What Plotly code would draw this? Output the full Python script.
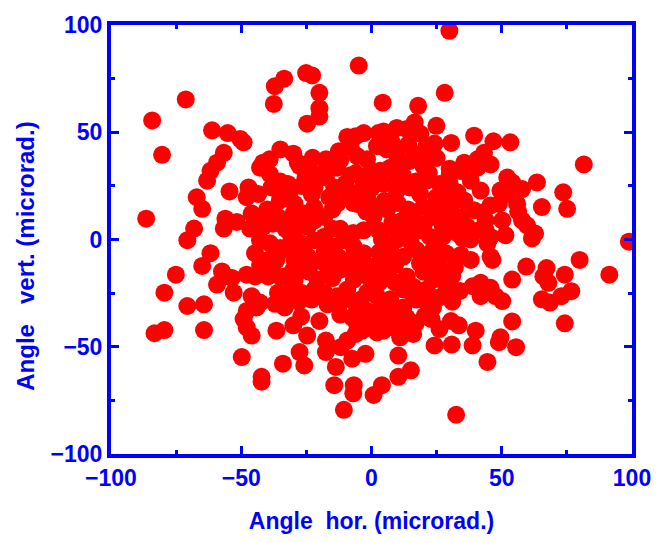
import plotly.graph_objects as go

# Beam pointing jitter: horizontal / vertical angle samples (microrad.)
angle_hor = [
    -71.3, -84.2, -80.4, -61.2, -55.2, -50.4, -49.1, -56.7, -59.3, -37.1,
    -33.5, -37.5, -35.0, -41.6, -39.1, 29.9, -4.9, -25.1, -22.8, -20.0,
    -20.0, -20.0, -24.7, 4.3, 28.1, 17.9, 24.9, 16.6, 13.5, 18.8,
    30.6, 24.2, -9.3, -6.1, -3.0, 2.7, 7.8, 14.1, 18.6, -12.5,
    -5.5, -1.7, 2.1, 5.9, -22.6, -17.5, -28.3, 39.4, 46.8, 53.3,
    43.2, 35.6, 40.7, 45.7, 81.5, -63.1, -61.8, -54.5, -67.1, -65.0,
    -86.5, -47.2, -42.8, -39.0, -38.4, -35.2, -47.9, -43.5, -56.1, -56.7,
    -51.7, -46.6, -41.6, -37.8, -68.1, -70.7, -42.8, -39.0, -44.7, -42.8,
    -39.0, -39.7, -61.8, -65.0, -75.1, -79.5, -57.4, -53.6, -59.3, -52.9,
    -47.9, -46.0, -42.8, -70.7, -64.3, -36.5, -35.2, -35.9, 63.5, 73.6,
    75.1, 65.4, 54.0, 57.8, 52.1, 55.9, 49.5, 45.7, 43.2, 51.4,
    61.6, 62.8, 59.7, 57.8, 44.5, 45.7, 46.4, 38.1, 34.3, 98.8,
    79.9, 91.3, 74.2, 67.2, 66.0, 67.9, 59.4, 54.0, 76.7, 72.9,
    65.4, 68.5, 41.9, 38.8, 45.7, 41.9, 50.2, 34.3, 40.7, 38.1,
    41.9, 35.6, 39.4, 34.3, 36.8, 33.1, 43.8, 45.7, -83.3, -79.5,
    -64.3, -47.9, -49.1, -47.9, -46.0, -44.1, -36.5, -49.8, -42.2, -42.2,
    -34.0, -33.3, -24.7, -27.6, -25.8, -17.5, -17.5, -13.7, -14.3, -10.6,
    -6.8, -7.0, 0.8, 4.0, -7.4, -2.3, -11.8, -9.3, -6.1, -5.5,
    -3.6, -7.4, -16.9, -13.1, -5.5, -1.7, 3.3, 4.6, 2.1, 8.4,
    12.2, 13.5, 8.4, 12.2, 16.0, 11.0, 10.3, 10.3, 15.1, 20.4,
    23.6, 26.1, 24.2, 30.5, 33.5, 30.8, 32.5, 40.0, 38.8, 44.5,
    48.9, 49.5, 54.0, 55.5, 74.2, -27.6, -13.1, -32.1, -31.4, -34.6,
    -29.5, -22.6, -21.9, -17.5, -14.3, -16.2, -46.0, -39.7, -35.9, -41.6,
    -25.8, -21.9, -24.5, -18.1, -13.0, -12.0, -5.5, -1.7, 2.1, 0.8,
    2.7, -3.0, -44.7, -39.7, -30.8, -32.1, -27.0, -21.9, -24.5, -29.5,
    -33.3, -29.5, -32.1, -27.0, -33.3, -18.1, -18.1, -14.3, -10.6, -6.8,
    -9.3, -3.0, -11.8, -16.9, -20.7, -21.9, -18.1, -13.1, -9.3, -6.8,
    -3.0, 0.8, -0.4, -1.7, 2.1, 4.6, 9.7, 14.7, 9.7, 52.1,
    21.1, 26.1, 28.7, 24.9, 18.6, 14.7, 9.7, 7.2, 3.4, 4.6,
    9.7, 48.9, 43.8, 50.2, 41.3, 29.9, 33.7, 27.4, 35.0, 23.6,
    19.8, 16.0, 13.5, 18.6, 22.4, 27.4, 28.7, 23.6, 17.3, 18.6,
    12.2, 7.2, 4.6, 5.9, 13.5, 12.2, 7.2, 17.3, 21.1, 23.6,
    27.4, 28.7, 21.1, 23.0, 47.6, 21.1, -25.3, -22.9, 56.3, -8.0,
    -3.0, -9.0, -6.0, 6.0, 8.0, 10.0, 0.0, -30.0, 30.0, -26.0,
    # dense core
    -30.0, -8.0, 10.0, 0.0, -12.0, 25.0, 30.0, 20.0, -18.0, -24.0,
    -27.0, -10.0, -5.0, 0.0, 12.0, 17.0, 22.0, 30.0, 33.0, -35.0,
    -30.0, -22.0, -15.0, -7.0, -2.0, 5.0, 10.0, 14.0, 25.0, 31.0, -40.0,
    -33.0, -28.0, -15.0, -7.0, 4.0, 8.0, 12.0, 20.0, 25.0, 31.0, 38.0,
    -35.0, -26.0, -20.0, -13.0, -5.0, 3.0, 9.0, 15.0, 21.0, 26.0, 32.0,
    -30.0, -24.0, -15.0, -8.0, 3.0, 9.0, 16.0, 20.0, 31.0, 34.0,
    -37.0, -28.0, -23.0, -10.0, -4.0, 4.0, 16.0, 26.0, 31.0,
    -27.0, -20.0, -12.0, -2.0, 7.0, 17.0, -30.0,
]
angle_vert = [
    65.3, 55.5, 39.5, 50.9, 49.6, 46.9, 45.3, 40.4, 35.8, 71.5,
    75.0, 63.2, 42.0, 35.8, 37.4, 97.3, 81.1, 77.6, 76.5, 68.4,
    61.2, 57.3, 54.0, 63.8, 68.4, 62.3, 53.0, 54.6, 51.5, 49.3,
    45.0, 44.7, 47.8, 48.1, 49.6, 49.6, 45.3, 44.3, 39.7, 41.2,
    38.9, 37.4, 43.5, 42.0, 38.1, 37.4, 35.8, 48.4, 45.8, 45.3,
    40.4, 35.8, 37.4, 35.0, 35.0, 27.4, 32.0, 22.4, 19.7, 14.3,
    9.7, 24.3, 33.5, 30.5, 24.3, 18.2, 19.7, 21.2, 9.7, 5.1,
    8.2, 5.1, 8.2, 7.4, 5.1, -0.3, -0.3, -1.8, -6.4, -11.8,
    -14.1, -9.5, -6.4, -12.3, -16.4, -24.8, -14.9, -17.9, -21.0, -24.8,
    -16.4, -26.4, -29.4, -31.0, -30.2, -9.5, -17.2, -24.8, 26.6, 22.0,
    14.3, 15.1, 26.6, 23.5, 21.2, 16.6, 22.8, 15.9, 12.8, 2.0,
    0.5, 2.8, 6.6, 8.9, -1.8, -8.0, -9.5, -9.5, -7.2, -1.0,
    -9.5, -16.4, -16.4, -13.3, -17.2, -20.2, -12.6, -18.7, -24.1, -26.4,
    -27.9, -29.4, -20.2, -21.8, -22.5, -26.4, -28.7, 31.9, 33.5, 27.4,
    22.8, 18.2, 13.6, 10.5, 5.9, 2.8, 4.3, 1.2, -43.7, -42.2,
    -42.2, -33.3, -37.1, -41.0, -44.8, -31.7, -42.5, -54.8, -64.0, -66.3,
    -57.9, -31.7, -44.8, -52.5, -58.7, -47.1, -52.5, -59.4, -67.9, -79.4,
    -67.9, -71.7, -72.5, -67.9, -55.6, -53.3, -50.2, -47.1, -44.0, -39.5,
    -42.5, -36.4, -30.2, -30.2, -31.7, -33.3, -36.4, -42.5, -43.3, -31.7,
    -31.7, -36.4, -41.0, -43.3, -44.0, -45.6, -54.1, -64.0, -61.0, -35.6,
    -31.7, -41.7, -49.4, -38.0, -40.0, -49.0, -81.7, -42.5, -49.4, -57.1,
    -47.9, -45.6, -38.2, -50.2, -39.1, 34.3, 33.5, 25.9, 22.0, 19.0,
    16.6, 27.4, 24.3, 28.9, 24.3, 19.7, 12.1, 8.9, 10.5, 5.9,
    12.1, 8.9, 5.9, 10.5, 17.0, 5.0, 16.6, 19.7, 15.1, 10.5,
    4.3, 4.3, -17.2, -17.2, 1.3, -4.9, -1.8, -0.3, -8.0, -9.5,
    -17.2, -18.7, -24.8, -24.8, -29.4, 1.3, -6.4, -3.4, -0.3, -3.4,
    -9.5, -6.4, -14.1, -12.6, -18.7, -23.3, -24.8, -26.4, -23.3, -18.7,
    -15.7, -12.6, -18.7, -24.8, -26.4, 50.4, 52.0, 36.6, 39.7, 28.9,
    27.4, 25.9, 21.2, 19.7, 21.2, 24.3, 28.9, 33.5, 32.0, 25.9,
    22.8, 16.6, 8.9, 8.9, 4.3, 12.1, 9.0, 5.9, 0.5, 10.5,
    15.1, 10.5, 4.3, 4.3, 1.3, 1.3, -6.5, -4.9, -4.9, -11.1,
    -8.0, -4.9, -11.1, -17.2, -17.2, -23.3, -27.9, -28.0, -23.3, -18.7,
    -18.7, -21.8, -28.7, -37.1, -26.4, 43.4, 29.0, 21.0, 13.0, 30.0,
    27.0, 22.0, 31.0, 14.0, 8.0, 0.0, 30.0, 10.0, 30.0, -14.0,
    # dense core
    40.0, 43.0, 35.0, 32.0, 37.0, 38.0, 33.0, 34.0, 32.0, 33.0,
    25.0, 26.0, 22.0, 24.0, 30.0, 27.0, 31.0, 26.0, 22.0, 27.0,
    12.0, 15.0, 14.0, 17.0, 13.0, 18.0, 17.0, 14.0, 15.0, 17.0, 14.0,
    5.0, 6.0, 5.0, 3.0, 0.0, 6.0, 9.0, 7.0, -1.0, 5.0, 0.0,
    -4.0, -5.0, -10.0, -8.0, -10.0, -6.0, -12.0, -1.0, -9.0, -12.0, -13.0,
    -14.0, -15.0, -18.0, -14.0, -20.0, -20.0, -22.0, -15.0, -17.0, -24.0,
    -30.0, -29.0, -28.0, -28.0, -28.0, -30.0, -26.0, -27.0, -29.0,
    -36.0, -38.0, -35.0, -38.0, -36.0, -39.0, -40.0,
]

fig = go.Figure(
    go.Scatter(
        x=angle_hor,
        y=angle_vert,
        mode="markers",
        marker=dict(size=18, color="#FF0000", line=dict(width=0)),
        cliponaxis=True,
        showlegend=False,
    )
)

blue = "#0000FF"
tick_font = dict(family="Liberation Sans, Arial, sans-serif", size=23, color=blue, weight="bold")
title_font = dict(family="Liberation Sans, Arial, sans-serif", size=23, color=blue, weight="bold")

axis_common = dict(
    range=[-100, 100],
    tickvals=[-100, -50, 0, 50, 100],
    ticks="inside",
    ticklen=8,
    tickwidth=3,
    tickcolor=blue,
    minor=dict(dtick=25, ticks="inside", ticklen=4, tickwidth=3, tickcolor=blue),
    showline=True,
    linecolor=blue,
    linewidth=4,
    mirror="ticks",
    showgrid=False,
    zeroline=False,
    tickfont=tick_font,
    fixedrange=True,
)

fig.update_xaxes(
    **axis_common,
    ticklabelstandoff=0,
    title=dict(text="Angle  hor. (microrad.)", font=title_font, standoff=24),
)
fig.update_yaxes(**axis_common)

# vertical axis title, placed as a rotated annotation left of the tick labels
fig.add_annotation(
    text="Angle   vert. (microrad.)",
    xref="paper", yref="paper",
    x=-0.163, y=0.46,
    xanchor="center", yanchor="middle",
    textangle=-90,
    showarrow=False,
    font=dict(family="Liberation Sans, Arial, sans-serif", size=24, color=blue, weight="bold"),
)

fig.update_layout(
    width=663,
    height=543,
    margin=dict(l=111, r=25, t=22, b=86),
    paper_bgcolor="white",
    plot_bgcolor="white",
)

fig.write_html("out.html")
